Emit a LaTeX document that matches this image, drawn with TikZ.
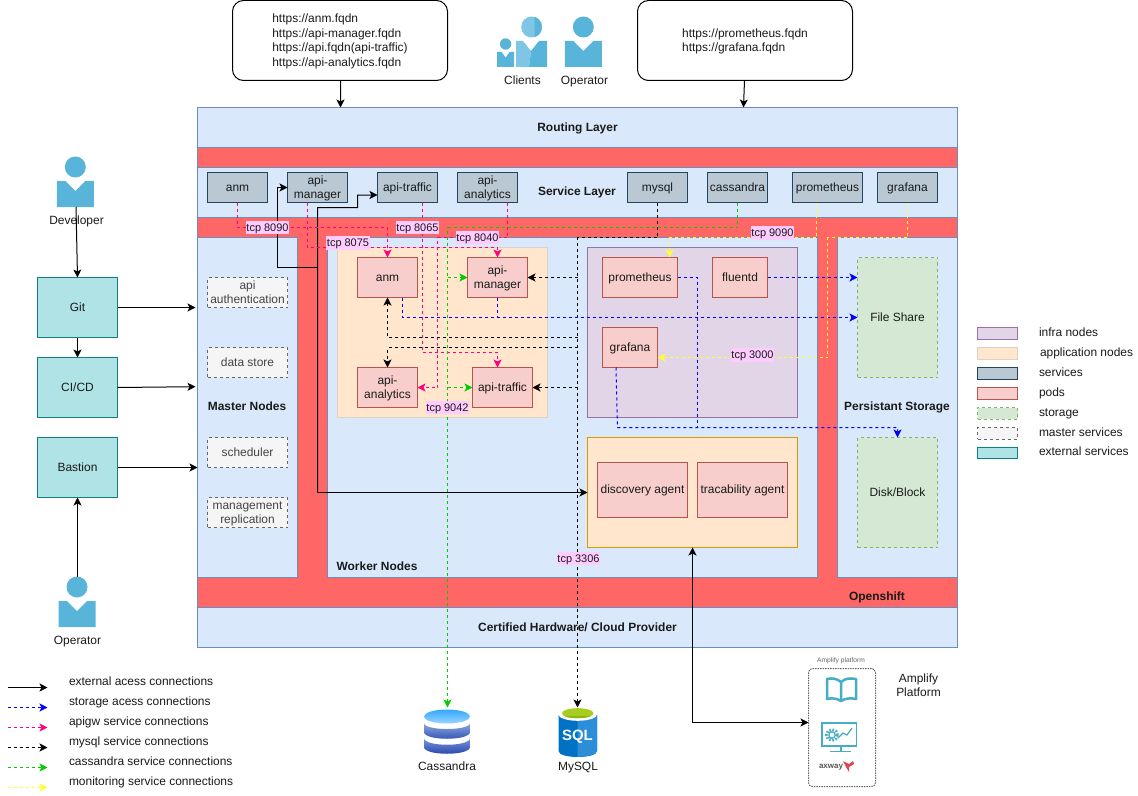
\documentclass[tikz,border=0pt]{standalone}
\usepackage{fontspec}
\setmainfont{Liberation Sans}
\usetikzlibrary{arrows.meta,calc}
\definecolor{redbar}{HTML}{FF6666}
\definecolor{layerblue}{HTML}{DAE8FC}
\definecolor{layerline}{HTML}{6C8EBF}
\definecolor{personblue}{HTML}{59B4D9}
\definecolor{personlight}{HTML}{7FC6E5}
\definecolor{teal}{HTML}{45ADC6}
\definecolor{txt}{HTML}{1A1A1A}
\definecolor{magentaline}{HTML}{FF0080}
\definecolor{greenline}{HTML}{00CC00}
\definecolor{blueline}{HTML}{0000FF}
\definecolor{yellowline}{HTML}{FFFF33}
\definecolor{HTML23445D}{HTML}{23445D}
\definecolor{HTMLBAC8D3}{HTML}{BAC8D3}
\definecolor{HTMLB85450}{HTML}{B85450}
\definecolor{HTMLF8CECC}{HTML}{F8CECC}
\definecolor{HTML666666}{HTML}{666666}
\definecolor{HTMLF5F5F5}{HTML}{F5F5F5}
\definecolor{HTML444444}{HTML}{444444}
\definecolor{HTML82B366}{HTML}{82B366}
\definecolor{HTMLD5E8D4}{HTML}{D5E8D4}
\definecolor{HTML0E8088}{HTML}{0E8088}
\definecolor{HTMLB0E3E6}{HTML}{B0E3E6}
\definecolor{HTMLD9D2C5}{HTML}{D9D2C5}
\definecolor{HTMLFFE6CC}{HTML}{FFE6CC}
\definecolor{HTMLD79B00}{HTML}{D79B00}
\definecolor{HTML9673A6}{HTML}{9673A6}
\definecolor{HTMLE1D5E7}{HTML}{E1D5E7}
\definecolor{HTMLFFCCFF}{HTML}{FFCCFF}
\definecolor{HTML7A98D8}{HTML}{7A98D8}
\definecolor{HTML1F3FA8}{HTML}{1F3FA8}
\definecolor{HTML8FA8E0}{HTML}{8FA8E0}
\definecolor{HTML2B4DB0}{HTML}{2B4DB0}
\definecolor{HTML33A8FF}{HTML}{33A8FF}
\definecolor{HTML99D5FF}{HTML}{99D5FF}
\definecolor{HTML0072C6}{HTML}{0072C6}
\definecolor{HTML2B8ED6}{HTML}{2B8ED6}
\definecolor{HTMLA7CE1F}{HTML}{A7CE1F}
\definecolor{HTML8DB510}{HTML}{8DB510}
\definecolor{HTML555555}{HTML}{555555}
\definecolor{HTMLE0474C}{HTML}{E0474C}
% strut that gives every line of text the same height and depth
\newcommand{\lnst}{\rule[-.267em]{0pt}{1.2em}}
\tikzset{
  x=1bp,y=-1bp,
  every node/.style={inner sep=0pt,outer sep=0pt,text=txt,font=\fontsize{12}{14.4}\selectfont,align=center},
  >={Stealth[length=8bp,width=8bp,inset=2bp]},
  layerbox/.style={draw=layerline,fill=layerblue,line width=1bp},
  svcbox/.style={draw=HTML23445D,fill=HTMLBAC8D3,line width=1bp},
  podbox/.style={draw=HTMLB85450,fill=HTMLF8CECC,line width=1bp},
  masterbox/.style={draw=HTML666666,fill=HTMLF5F5F5,line width=1bp,dash pattern=on 3bp off 3bp,text=HTML444444},
  storebox/.style={draw=HTML82B366,fill=HTMLD5E8D4,line width=1bp,dash pattern=on 3bp off 3bp},
  extbox/.style={draw=HTML0E8088,fill=HTMLB0E3E6,line width=1bp},
  appbox/.style={draw=HTMLD9D2C5,fill=HTMLFFE6CC,line width=1bp},
  agentbox/.style={draw=HTMLD79B00,fill=HTMLFFE6CC,line width=1bp},
  infrabox/.style={draw=HTML9673A6,fill=HTMLE1D5E7,line width=1bp},
  callout/.style={draw=black,fill=white,rounded corners=11bp,line width=1bp},
  ampbox/.style={draw=HTML666666,fill=white,rounded corners=4bp,line width=1bp,dash pattern=on 1.5bp off 1bp},
  title/.style={font=\fontsize{12}{14.4}\selectfont\bfseries},
  tcp/.style={fill=HTMLFFCCFF,font=\fontsize{11}{13}\selectfont,inner xsep=.5bp,inner ysep=0bp},
  legendtext/.style={anchor=west},
  solidconn/.style={draw=black,line width=1bp,->},
  dashconn/.style={line width=1bp,dash pattern=on 3bp off 3bp,->},
  apigw/.style={dashconn,draw=magentaline},
  mysqlc/.style={dashconn,draw=black},
  cass/.style={dashconn,draw=greenline},
  stor/.style={dashconn,draw=blueline},
  moni/.style={dashconn,draw=yellowline},
}
% style, name, x1, y1, x2, y2, text
\newcommand{\bx}[7]{\node[#1,minimum width={(#5-#3)*1bp},minimum height={(#6-#4)*1bp}] (#2) at ({(#3+#5)/2},{(#4+#6)/2}) {\lnst#7\lnst};}
% the same with no text
\newcommand{\keybx}[6]{\node[#1,minimum width={(#5-#3)*1bp},minimum height={(#6-#4)*1bp}] (#2) at ({(#3+#5)/2},{(#4+#6)/2}) {};}
% person icon: centre x, head y, head r, body half width, body top, body bottom, notch half, notch depth
\newcommand{\personicon}[8]{%
  \fill[personblue] (#1,#2) circle[radius=#3bp];
  \fill[personblue] ({#1-#4},#5) -- ({#1-#7},#5) -- (#1,{#5+#8}) -- ({#1+#7},#5) -- ({#1+#4},#5) -- ({#1+#4},#6) -- ({#1-#4},#6) -- cycle;}
\begin{document}
\begin{tikzpicture}
\useasboundingbox (0,0) rectangle (1138,796);
\fill[white] (0,0) rectangle (1138,796);

% platform
\fill[redbar,draw=layerline,line width=1bp] (197.5,107.5) rectangle (957.5,647.5);
\bx{layerbox}{routing}{197.5}{107.5}{957.5}{147.5}{\textbf{Routing Layer}}
\keybx{layerbox}{servicelayer}{197.5}{167.5}{957.5}{217.5}
\keybx{layerbox}{masterlayer}{197.5}{237.5}{297.5}{577.5}
\keybx{layerbox}{workerlayer}{327.5}{237.5}{817.5}{577.5}
\keybx{layerbox}{storagelayer}{837.5}{237.5}{957.5}{577.5}
\bx{layerbox}{hardware}{197.5}{607.5}{957.5}{647.5}{\textbf{Certified Hardware/ Cloud Provider}}
\node[title] (servicetitle) at (577,192) {\lnst Service Layer};
\node[title] (mastertitle) at (247,407) {\lnst Master Nodes};
\node[title] (workertitle) at (377,567) {\lnst Worker Nodes};
\node[title] (storagetitle) at (897,407) {\lnst Persistant Storage};
\node[title] (openshift) at (877,597) {\lnst Openshift};

% service boxes
\bx{svcbox}{svcAnm}{207.5}{172.5}{267.5}{202.5}{anm}
\bx{svcbox}{svcMgr}{287.5}{172.5}{347.5}{202.5}{api-\\manager}
\bx{svcbox}{svcTraffic}{377.5}{172.5}{437.5}{202.5}{api-traffic}
\bx{svcbox}{svcAnalytics}{457.5}{172.5}{517.5}{202.5}{api-\\analytics}
\bx{svcbox}{svcMysql}{627.5}{172.5}{687.5}{202.5}{mysql}
\bx{svcbox}{svcCass}{707.5}{172.5}{767.5}{202.5}{cassandra}
\bx{svcbox}{svcProm}{792.5}{172.5}{862.5}{202.5}{prometheus}
\bx{svcbox}{svcGraf}{877.5}{172.5}{937.5}{202.5}{grafana}

% master services
\bx{masterbox}{mAuth}{207.5}{277.5}{287.5}{307.5}{api\\authentication}
\bx{masterbox}{mStore}{207.5}{347.5}{287.5}{377.5}{data store}
\bx{masterbox}{mSched}{207.5}{437.5}{287.5}{467.5}{scheduler}
\bx{masterbox}{mRepl}{207.5}{497.5}{287.5}{527.5}{management\\replication}

% worker contents
\keybx{appbox}{appNodes}{337.5}{247.5}{547.5}{417.5}
\keybx{infrabox}{infraNodes}{587.5}{247.5}{797.5}{417.5}
\keybx{agentbox}{agents}{587.5}{437.5}{797.5}{547.5}
\bx{storebox}{fileShare}{857.5}{257.5}{937.5}{377.5}{File Share}
\bx{storebox}{diskBlock}{857.5}{437.5}{937.5}{547.5}{Disk/Block}

\bx{podbox}{podAnm}{357.5}{257.5}{417.5}{297.5}{anm}
\bx{podbox}{podMgr}{467.5}{257.5}{527.5}{297.5}{api-\\manager}
\bx{podbox}{podAnalytics}{357.5}{367.5}{417.5}{407.5}{api-\\analytics}
\bx{podbox}{podTraffic}{472.5}{367.5}{532.5}{407.5}{api-traffic}
\bx{podbox}{podProm}{602.5}{257.5}{677.5}{297.5}{prometheus}
\bx{podbox}{podFluentd}{712.5}{257.5}{767.5}{297.5}{fluentd}
\bx{podbox}{podGraf}{602.5}{327.5}{657.5}{367.5}{grafana}
\bx{podbox}{podDiscovery}{597.5}{462.5}{687.5}{517.5}{discovery agent}
\bx{podbox}{podTrac}{697.5}{462.5}{787.5}{517.5}{tracability agent}

% external boxes
\bx{extbox}{git}{37.5}{277.5}{117.5}{337.5}{Git}
\bx{extbox}{cicd}{37.5}{357.5}{117.5}{417.5}{CI/CD}
\bx{extbox}{bastion}{37.5}{437.5}{117.5}{497.5}{Bastion}

% callouts
\bx{callout,align=left}{urlsA}{232.5}{0.5}{447.5}{80.5}{https://anm.fqdn\\https://api-manager.fqdn\\https://api.fqdn(api-traffic)\\https://api-analytics.fqdn}
\bx{callout,align=left}{urlsB}{637.5}{0.5}{852.5}{80.5}{https://prometheus.fqdn\\https://grafana.fqdn}

% people
\fill[personlight] (531.7,27) circle[radius=10.5bp];
\fill[personblue] (534.7,16.9) .. controls (544,20) and (544,34) .. (534.7,37) -- cycle;
\fill[personlight] (516,41) -- (523,41) -- (531,51) -- (529,67) -- (516,67) -- cycle;
\fill[personblue] (529,67) -- (531,51) -- (539,41) -- (547,41) -- (547,67) -- cycle;
\personicon{505.6}{44}{5.7}{8.5}{52}{67}{4}{5.5}
\personicon{583.3}{27}{10.5}{18.5}{41}{67}{10}{10}
\personicon{75.3}{167}{10.5}{18.5}{181}{207}{10}{10}
\personicon{77}{587}{10.5}{18.5}{601}{627}{10}{10}
\node (clientsLabel) at (522.5,81) {\lnst Clients};
\node (operatorTop) at (584.5,81) {\lnst Operator};
\node (developerLabel) at (76.5,221) {\lnst Developer};
\node (operatorBottom) at (77.5,641) {\lnst Operator};
\coordinate (developerFoot) at (76,207);
\coordinate (operatorHead) at (77.5,577);

% databases
\coordinate (cassIcon) at (447.5,707.5);
\coordinate (mysqlIcon) at (577.5,707.5);
\shade[top color=HTML7A98D8,bottom color=HTML1F3FA8] (424,738) -- (424,747) .. controls (424,756) and (470,756) .. (470,747) -- (470,738) .. controls (470,747) and (424,747) .. (424,738) -- cycle;
\shade[top color=HTML8FA8E0,bottom color=HTML2B4DB0] (424,723) -- (424,732) .. controls (424,741) and (470,741) .. (470,732) -- (470,723) .. controls (470,731) and (424,731) .. (424,723) -- cycle;
\shade[top color=HTML33A8FF,bottom color=HTML99D5FF] (447,716.5) ellipse[x radius=23bp,y radius=7bp];
\fill[HTML0072C6] (558.5,715) -- (558.5,751) .. controls (558.5,759) and (597,759) .. (597,751) -- (597,715) -- cycle;
\fill[HTML2B8ED6] (577.7,719) -- (577.7,756.8) .. controls (590,756.5) and (597,754) .. (597,751) -- (597,715) -- cycle;
\fill[white] (577.7,714.5) ellipse[x radius=19.3bp,y radius=6.3bp];
\fill[HTMLA7CE1F] (577.7,713.2) ellipse[x radius=15.8bp,y radius=5bp];
\fill[HTML8DB510] (577.7,716) .. controls (570,716) and (566,716.5) .. (563.5,715.5) .. controls (568,719) and (587,719) .. (592,715.5) .. controls (589,716.5) and (585,716) .. (577.7,716) -- cycle;
\node[font=\fontsize{15}{18}\selectfont\bfseries,text=white] (sqlText) at (577.5,736.5) {SQL};
\node (cassLabel) at (447,767) {\lnst Cassandra};
\node (mysqlLabel) at (578,767) {\lnst MySQL};

% amplify
\keybx{ampbox}{amplify}{808.5}{668.5}{875.5}{786.5}
\node[font=\fontsize{6.7}{7}\selectfont,text=HTML666666] (ampTitle) at (841,661) {Amplify platform};
\node (ampLabel) at (918.5,685.5) {\lnst Amplify\\Platform\lnst};
\draw[teal,line width=2.5bp,line join=round] (841,682) .. controls (836,678) and (832,678) .. (827,679) -- (827,699) .. controls (832,698) and (836,698) .. (841,701) .. controls (846,698) and (850,698) .. (856,699) -- (856,679) .. controls (850,678) and (846,678) .. (841,682) -- (841,701);
\draw[teal,line width=1.6bp] (822,723) rectangle (856.5,746);
\draw[teal,line width=2bp] (841,746.5) -- (841,751);
\draw[teal,line width=1.6bp] (830,751.5) -- (851,751.5);
\draw[teal,line width=3bp,dash pattern=on 1.6bp off 1.6bp] (832,735) circle[radius=5.5bp];
\draw[teal,line width=1.2bp] (832,735) circle[radius=3.2bp];
\draw[teal,line width=1.2bp] (838,738) -- (843,733) -- (847,735) -- (852,728);
\node[font=\fontsize{8}{9}\selectfont\bfseries,text=HTML555555] (axwayText) at (831,767.5) {axway};
\fill[HTMLE0474C] (843,761) -- (849,764) -- (853,761) -- (854,764) -- (849,767) -- (849,772) -- (846,767) -- cycle;

% external access connections
\draw[solidconn] ([xshift=.5bp]urlsA.south) -- ([xshift=-237bp]routing.north);
\draw[solidconn] ([xshift=-.5bp]urlsB.south) -- ([xshift=166bp]routing.north);
\draw[solidconn] (developerFoot) -- (git.north);
\draw[solidconn] (git.east) -- ([xshift=-2bp]masterlayer.west |- git.east);
\draw[solidconn] (git.south) -- (cicd.north);
\draw[solidconn] (cicd.east) -- ([xshift=-2bp,yshift=.8bp]masterlayer.west |- cicd.east);
\draw[solidconn] (bastion.east) -- (masterlayer.west |- bastion.east);
\draw[solidconn] (operatorHead) -- (bastion.south);
\coordinate (busCorner) at (317.5,492.5);
\coordinate (busBranch) at (317.5,267.5);
\draw[solidconn] (busCorner) -- (agents.west);
\draw[solidconn] (busCorner) -- (317.5,207.5) -- (357.5,207.5) -- (357.5,195) -- ([yshift=-7.5bp]svcTraffic.west);
\draw[solidconn] (busBranch) -- (277.5,267.5) -- (277.5,187.5) -- (svcMgr.west);
\draw[solidconn,<->] (agents.south) |- ([yshift=5bp]amplify.west);

% apigw connections
\draw[apigw] (svcAnm.south) -- ++(0,25) -| (podAnm.north);
\draw[apigw] ([xshift=-10bp]svcMgr.south) -- ++(0,45) -| (podMgr.north);
\draw[apigw] ([xshift=15bp]svcTraffic.south) -- ++(0,150) -| ([xshift=-5bp]podTraffic.north);
\draw[apigw] ([xshift=20bp]svcAnalytics.south) -- ++(0,35) -- (437.5,237.5) |- (podAnalytics.east);

% cassandra connections
\coordinate (cassA) at (447.5,277.5);
\coordinate (cassB) at (447.5,387.5);
\draw[cass] (svcCass.south) -- ++(0,25) -| (cassIcon);
\draw[cass] (cassA) -- (podMgr.west);
\draw[cass] (cassB) -- (podTraffic.west);

% mysql connections
\coordinate (mysqlBus) at (577.5,237.5);
\coordinate (myA) at (577.5,277.5);
\coordinate (myB) at (577.5,337.5);
\coordinate (myC) at (577.5,347.5);
\coordinate (myD) at (577.5,387.5);
\draw[mysqlc] (svcMysql.south) |- (mysqlBus) -- (mysqlIcon);
\draw[mysqlc] (myA) -- (podMgr.east);
\draw[mysqlc] (myB) -| (podAnm.south);
\draw[mysqlc] (myC) -| (podAnalytics.north);
\draw[mysqlc] (myD) -- (podTraffic.east);

% storage connections
\coordinate (fsLine) at (497.5,317.5);
\coordinate (diskLine) at (697.5,427.5);
\draw[stor] (podFluentd.east) -- (fileShare.west |- podFluentd.east);
\draw[stor] ([xshift=15bp]podAnm.south) |- (fileShare.west);
\draw[stor,-] (podMgr.south) -- (fsLine);
\draw[stor,-] (podProm.east) -| (diskLine);
\draw[stor] ([xshift=-14bp]podGraf.south) -- (617.5,427.5) -| (diskBlock.north);

% monitoring connections
\draw[moni] ([xshift=-11bp]svcProm.south) -- ++(0,35) -| ([xshift=29.5bp]podProm.north);
\draw[moni] (svcGraf.south) -- ++(0,35) -- (827.5,237.5) |- ([yshift=-10bp]podGraf.east);

% tcp labels
\node[tcp] (tcp8090) at (267.5,227.5) {\lnst tcp 8090};
\node[tcp] (tcp8075) at (348,243) {\lnst tcp 8075};
\node[tcp] (tcp8065) at (417.5,227.5) {\lnst tcp 8065};
\node[tcp] (tcp8040) at (477.5,237.5) {\lnst tcp 8040};
\node[tcp] (tcp9042) at (447.5,407.5) {\lnst tcp 9042};
\node[tcp] (tcp9090) at (772.5,233) {\lnst tcp 9090};
\node[tcp] (tcp3000) at (752.5,355) {\lnst tcp 3000};
\node[tcp] (tcp3306) at (578.5,558.5) {\lnst tcp 3306};

% legend, left
\foreach \yy/\nm/\tx/\sty in {687.5/a/external acess connections/solidconn,707.5/b/storage acess connections/stor,727.5/c/apigw service connections/apigw,747.5/d/mysql service connections/mysqlc,767.5/e/cassandra service connections/cass,787.5/f/monitoring service connections/moni}{
  \coordinate (lgs\nm) at (7.5,\yy);
  \coordinate (lge\nm) at (47.5,\yy);
  \draw[\sty] (lgs\nm) -- (lge\nm);
  \node[legendtext] (lgt\nm) at (69,{\yy-5.5}) {\lnst\tx};
}

% legend, right
\keybx{infrabox}{keyInfra}{977.5}{327.5}{1017.5}{339}
\keybx{appbox}{keyApp}{977.5}{347.5}{1017.5}{359}
\keybx{svcbox}{keySvc}{977.5}{367.5}{1017.5}{379}
\keybx{podbox}{keyPod}{977.5}{387.5}{1017.5}{399}
\keybx{storebox}{keyStore}{977.5}{407.5}{1017.5}{419}
\keybx{masterbox}{keyMaster}{977.5}{427.5}{1017.5}{439}
\keybx{extbox}{keyExt}{977.5}{447}{1017.5}{458.5}
\node[legendtext] (ktInfra) at (1039,333) {\lnst infra nodes};
\node[legendtext] (ktApp) at (1040,353) {\lnst application nodes};
\node[legendtext] (ktSvc) at (1039,373) {\lnst services};
\node[legendtext] (ktPod) at (1039,393) {\lnst pods};
\node[legendtext] (ktStore) at (1039,413) {\lnst storage};
\node[legendtext] (ktMaster) at (1039,433) {\lnst master services};
\node[legendtext] (ktExt) at (1039,452) {\lnst external services};
\end{tikzpicture}
\end{document}
